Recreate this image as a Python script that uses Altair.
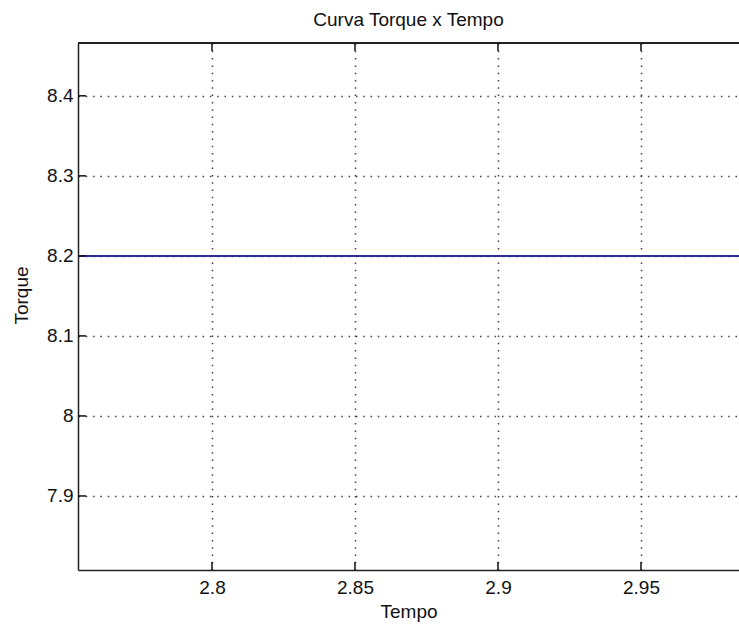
import altair as alt
import pandas as pd

tempo = [2.74, 2.80, 2.85, 2.90, 2.95, 3.00]
torque = [8.2, 8.2, 8.2, 8.2, 8.2, 8.2]
x_ticks = [2.8, 2.85, 2.9, 2.95]
y_ticks = [7.9, 8.0, 8.1, 8.2, 8.3, 8.4]
x_dom = [2.75315, 2.98427]
y_dom = [7.8075, 8.466]

W, H = 661, 527
FONT = "Liberation Sans"
FS = 19

df = pd.DataFrame({"Tempo": tempo, "Torque": torque})
xt = pd.DataFrame({"x": x_ticks})
yt = pd.DataFrame({"y": y_ticks})

xs = alt.Scale(domain=x_dom, nice=False, zero=False)
ys = alt.Scale(domain=y_dom, nice=False, zero=False)

common = dict(grid=True, gridColor="#222222", gridDash=[1.5, 5.8], gridWidth=1.5, gridOpacity=0.85,
              ticks=False, domain=True, domainColor="#222222", domainWidth=1.5,
              labelFont=FONT, labelFontSize=FS, labelColor="#111111",
              titleFont=FONT, titleFontSize=FS, titleFontWeight="normal", titleColor="#111111",
              labelExpr="format(datum.value, '~g')")

base = alt.Chart(df).mark_line(color="#2e2e96", strokeWidth=2, clip=True).encode(
    x=alt.X("Tempo:Q", scale=xs,
            axis=alt.Axis(title="Tempo", values=x_ticks, labelPadding=8,
                          titleBaseline="alphabetic", titleY=47, **common)),
    y=alt.Y("Torque:Q", scale=ys,
            axis=alt.Axis(title="Torque", values=y_ticks, labelPadding=5,
                          titleBaseline="alphabetic", titleAngle=270, titleX=-51, titleY=252,
                          titleAlign="center", **common)),
)

xtick_b = alt.Chart(xt).mark_rule(color="#111111", strokeWidth=1.5).encode(
    x=alt.X("x:Q", scale=xs), y=alt.value(H), y2=alt.value(H - 8))
xtick_t = alt.Chart(xt).mark_rule(color="#111111", strokeWidth=1.5).encode(
    x=alt.X("x:Q", scale=xs), y=alt.value(0), y2=alt.value(8))
ytick_l = alt.Chart(yt).mark_rule(color="#111111", strokeWidth=1.5).encode(
    y=alt.Y("y:Q", scale=ys), x=alt.value(0), x2=alt.value(8))
top_border = alt.Chart(xt).mark_rule(color="#222222", strokeWidth=1.5).encode(
    x=alt.value(0), x2=alt.value(W + 5), y=alt.value(0))

chart = alt.layer(base, xtick_b, xtick_t, ytick_l, top_border).properties(
    width=W, height=H,
    background="white",
    title=alt.TitleParams("Curva Torque x Tempo", font=FONT, fontSize=FS, fontWeight="normal",
                          color="#111111", offset=12),
    autosize=alt.AutoSizeParams(type="none"),
    padding={"left": 78, "top": 43, "right": 0, "bottom": 56},
).configure_view(
    strokeWidth=0
)

chart.save("out.html", embed_options={"renderer": "svg", "actions": False})
